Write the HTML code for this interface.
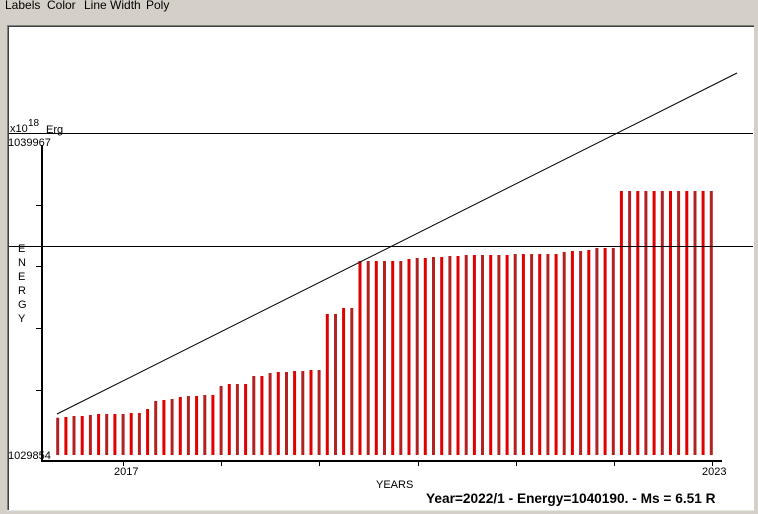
<!DOCTYPE html>
<html><head><meta charset="utf-8"><style>
html,body{margin:0;padding:0;width:758px;height:514px;overflow:hidden;background:#d4d0c8;font-family:"Liberation Sans",sans-serif;}
</style></head><body>
<svg width="758" height="514" xmlns="http://www.w3.org/2000/svg" style="position:absolute;left:0;top:0">
<rect x="0" y="0" width="758" height="514" fill="#d4d0c8"/>
<g font-size="12" fill="#000"><text x="5" y="9">Labels</text><text x="47" y="9">Color</text><text x="84" y="9">Line Width</text><text x="146" y="9">Poly</text></g>
<rect x="7" y="25" width="747" height="486" fill="#fff"/>
<line x1="7.5" y1="25" x2="7.5" y2="511" stroke="#808080"/>
<line x1="7" y1="25.5" x2="754" y2="25.5" stroke="#808080"/>
<line x1="8.5" y1="26" x2="8.5" y2="511" stroke="#404040"/>
<line x1="8" y1="26.5" x2="754" y2="26.5" stroke="#404040"/>
<line x1="7" y1="510.5" x2="754" y2="510.5" stroke="#e8e8e8"/>
<g id="bars"></g>
<line x1="9" y1="133.5" x2="753" y2="133.5" stroke="#000"/>
<line x1="9" y1="246.5" x2="753" y2="246.5" stroke="#000"/>
<line x1="57" y1="414" x2="737" y2="73" stroke="#000"/>
<line x1="42" y1="145" x2="42" y2="462" stroke="#000" stroke-width="2"/>
<line x1="41" y1="461" x2="722" y2="461" stroke="#000" stroke-width="2"/>
<g stroke="#000"><line x1="36" y1="205.5" x2="42" y2="205.5"/><line x1="36" y1="266.5" x2="42" y2="266.5"/><line x1="36" y1="328.5" x2="42" y2="328.5"/><line x1="36" y1="390.5" x2="42" y2="390.5"/>
<line x1="123.5" y1="461" x2="123.5" y2="466"/><line x1="221.5" y1="461" x2="221.5" y2="466"/><line x1="319.5" y1="461" x2="319.5" y2="466"/><line x1="418.5" y1="461" x2="418.5" y2="466"/><line x1="516.5" y1="461" x2="516.5" y2="466"/><line x1="614.5" y1="461" x2="614.5" y2="466"/><line x1="712.5" y1="461" x2="712.5" y2="466"/></g>
<g font-size="11" fill="#000">
<text x="10" y="132">x10</text><text x="28" y="126" font-size="10">18</text><text x="46" y="133">Erg</text>
<text x="8" y="146">1039967</text><text x="8" y="459">1029854</text>
<text x="114" y="475">2017</text><text x="702" y="475">2023</text>
<text x="376" y="488">YEARS</text>
<text x="18" y="252">E</text><text x="18" y="266">N</text><text x="18" y="280">E</text><text x="18" y="294">R</text><text x="18" y="308">G</text><text x="18" y="322">Y</text>
<text x="426" y="503" font-size="13.7" font-weight="bold">Year=2022/1 - Energy=1040190. - Ms = 6.51 R</text>
</g>
</svg>
<script>
var tops=[417.7,417,416,416,415,414,414,414,414,413,413,409,401,400,399,397,396,396,395,395,386,384,384,384,376,376,373,372,372,371,371,370,370,314,314,308,308,
261,261,261,261,261,261,259,258,258,257,257,256,256,255,255,255,255,255,255,254,254,254,254,254,254,252,251,251,250,248,248,248];
while(tops.length<81)tops.push(191);
var g=document.getElementById('bars'),s='';
for(var i=0;i<81;i++){var x=57.7+i*8.17;var c=(i%2==0)?'#b22222':'#e00000';
s+='<rect x="'+(x-1.5).toFixed(1)+'" y="'+tops[i]+'" width="3" height="'+(455-tops[i])+'" fill="'+c+'"/>';}
g.innerHTML=s;
</script>
</body></html>
